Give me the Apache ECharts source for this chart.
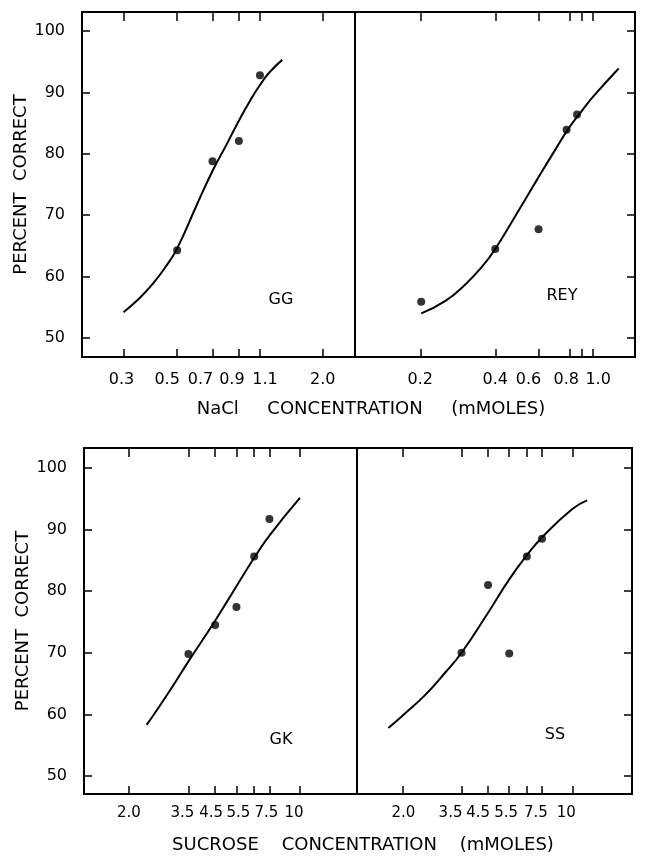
<!DOCTYPE html>
<html><head><meta charset="utf-8">
<script src="https://cdn.jsdelivr.net/npm/echarts@6/dist/echarts.min.js"></script>
<style>html,body{margin:0;padding:0;background:#fff}#c{width:645px;height:858px}</style>
</head><body><div id="c"></div>
<script>
// ---- Data ----
const yTicks = [50, 60, 70, 80, 90, 100];
const yTickLabels = ['50', '60', '70', '80', '90', '100'];

// GG (NaCl)
const ggTicks = [0.3, 0.5, 0.7, 0.9, 1.1, 2.0];
const ggTickLabels = ['0.3', '0.5', '0.7', '0.9', '1.1', '2.0'];
const ggPointX = [0.5, 0.7, 0.9, 1.1];
const ggPointY = [64.3, 78.8, 82.1, 92.8];
const ggCurveX = [0.3, 0.35, 0.4, 0.45, 0.5, 0.6, 0.7, 0.8, 0.9, 1.0, 1.1, 1.2, 1.36];
const ggCurveY = [54.2, 56.5, 59, 61.7, 64.6, 71.5, 77.2, 81.5, 85.4, 88.6, 91.2, 93.2, 95.3];

// REY (NaCl)
const reyTicks = [0.2, 0.4, 0.6, 0.8, 0.9, 1.0];
const reyLabelTicks = [0.2, 0.4, 0.6, 0.8, 1.0];
const reyTickLabels = ['0.2', '0.4', '0.6', '0.8', '1.0'];
const reyPointX = [0.2, 0.4, 0.6, 0.78, 0.86];
const reyPointY = [55.9, 64.5, 67.7, 83.9, 86.4];
const reyCurveX = [0.2, 0.25, 0.3, 0.35, 0.4, 0.5, 0.6, 0.7, 0.8, 0.9, 1.0, 1.27];
const reyCurveY = [54.0, 56.0, 58.6, 61.4, 64.5, 70.9, 76.2, 80.6, 84.3, 87.0, 89.3, 93.9];

// GK (sucrose)
const sucTicks = [2.0, 3.5, 4.5, 5.5, 6.5, 7.5, 10];
const sucLabelTicks = [2.0, 3.5, 4.5, 5.5, 7.5, 10];
const sucTickLabels = ['2.0', '3.5', '4.5', '5.5', '7.5', '10'];
const gkPointX = [3.5, 4.5, 5.5, 6.5, 7.5];
const gkPointY = [69.8, 74.5, 77.4, 85.6, 91.7];
const gkCurveX = [2.36, 2.5, 3.0, 3.5, 4.5, 5.5, 6.5, 7.5, 10];
const gkCurveY = [58.3, 59.7, 64.4, 68.6, 75.2, 80.8, 85.4, 89.0, 95.1];

// SS (sucrose)
const ssPointX = [3.5, 4.5, 5.5, 6.5, 7.5];
const ssPointY = [70.0, 81.0, 69.9, 85.6, 88.5];
const ssCurveX = [1.75, 2.0, 2.5, 3.0, 3.5, 4.5, 5.5, 6.5, 7.5, 10, 11.5];
const ssCurveY = [57.8, 59.8, 63.3, 66.8, 70.0, 76.5, 81.9, 85.8, 88.7, 93.3, 94.7];

// ---- Styling / layout ----
const FONT = 'DejaVu Sans';
const zip = (xs, ys) => xs.map((x, i) => [x, ys[i]]);

// horizontal nudges (px) of the hand-lettered tick labels, per label
const nudgeGG = [-2, -10, -12, -7, 5, 0];
const nudgeREY = [-1, 0, -10, -3, 5];
const nudgeGK = [0, -6, -4, 2, -3, -6];
const nudgeSS = [1, -11, -10, -3, -6, -6];

const panels = [
  { grid: {left: 82, top: 12, width: 273, height: 345}, xMin: 0.202, xMax: 2.72, yMin: 46.9, yMax: 103.1,
    ticks: ggTicks, labelTicks: ggTicks, labels: ggTickLabels, nudge: nudgeGG, side: 'left', lblMargin: 15, lblSize: 16,
    px: ggPointX, py: ggPointY, cx: ggCurveX, cy: ggCurveY },
  { grid: {left: 355, top: 12, width: 280, height: 345}, xMin: 0.1076, xMax: 1.48, yMin: 46.9, yMax: 103.1,
    ticks: reyTicks, labelTicks: reyLabelTicks, labels: reyTickLabels, nudge: nudgeREY, side: 'right', lblMargin: 15, lblSize: 16,
    px: reyPointX, py: reyPointY, cx: reyCurveX, cy: reyCurveY },
  { grid: {left: 84, top: 448, width: 273, height: 346}, xMin: 1.31, xMax: 17.1, yMin: 47.1, yMax: 103.2,
    ticks: sucTicks, labelTicks: sucLabelTicks, labels: sucTickLabels, nudge: nudgeGK, side: 'left', lblMargin: 12, lblSize: 15,
    px: gkPointX, py: gkPointY, cx: gkCurveX, cy: gkCurveY },
  { grid: {left: 357, top: 448, width: 275, height: 346}, xMin: 1.30, xMax: 17.6, yMin: 47.1, yMax: 103.2,
    ticks: sucTicks, labelTicks: sucLabelTicks, labels: sucTickLabels, nudge: nudgeSS, side: 'right', lblMargin: 12, lblSize: 15,
    px: ssPointX, py: ssPointY, cx: ssCurveX, cy: ssCurveY }
];

const option = { animation: false, backgroundColor: '#fff', grid: [], xAxis: [], yAxis: [], series: [], graphic: [] };

panels.forEach((p, i) => {
  option.grid.push(Object.assign({show: true, borderColor: '#000', borderWidth: 2, backgroundColor: 'transparent'}, p.grid));
  const rich = {};
  p.nudge.forEach((n, k) => {
    rich['n' + k] = {fontSize: p.lblSize, fontFamily: FONT, color: '#000',
      padding: n < 0 ? [0, -2 * n, 0, 0] : [0, 0, 0, 2 * n]};
  });
  const lab = (v) => {
    let best = 0, bd = Infinity;
    p.labelTicks.forEach((t, k) => { const d = Math.abs(Math.log(t) - Math.log(v)); if (d < bd) { bd = d; best = k; } });
    return '{n' + best + '|' + p.labels[best] + '}';
  };
  option.xAxis.push({
    type: 'log', gridIndex: i, min: p.xMin, max: p.xMax, position: 'bottom',
    axisLine: {show: false}, splitLine: {show: false}, minorTick: {show: false},
    axisTick: {show: true, inside: true, length: 8, lineStyle: {color: '#000', width: 1.5}, customValues: p.ticks},
    axisLabel: {show: true, customValues: p.labelTicks, formatter: lab, rich: rich, color: '#000',
      fontSize: p.lblSize, fontFamily: FONT, margin: p.lblMargin}
  });
  option.xAxis.push({
    type: 'log', gridIndex: i, min: p.xMin, max: p.xMax, position: 'top',
    axisLine: {show: false}, splitLine: {show: false},
    axisTick: {show: true, inside: true, length: 9, lineStyle: {color: '#000', width: 1.5}, customValues: p.ticks},
    axisLabel: {show: false}
  });
  const yAx = {
    type: 'value', gridIndex: i, min: p.yMin, max: p.yMax, position: p.side,
    axisLine: {show: false}, splitLine: {show: false},
    axisTick: {show: true, inside: true, length: 8, lineStyle: {color: '#000', width: 1.5}, customValues: yTicks},
    axisLabel: {show: p.side === 'left', customValues: yTicks, color: '#000', fontSize: 16, fontFamily: FONT, margin: 17,
      formatter: v => yTickLabels[yTicks.indexOf(Math.round(v))] }
  };
  if (p.side === 'left') {
    yAx.name = 'PERCENT  CORRECT';
    yAx.nameLocation = 'middle';
    yAx.nameGap = 44;
    yAx.nameTextStyle = {color: '#000', fontSize: 18, fontFamily: FONT};
  }
  option.yAxis.push(yAx);
  option.series.push({
    type: 'line', xAxisIndex: 2 * i, yAxisIndex: i, data: zip(p.cx, p.cy), smooth: 0.5,
    showSymbol: false, lineStyle: {color: '#000', width: 2}, z: 2
  });
  option.series.push({
    type: 'scatter', xAxisIndex: 2 * i, yAxisIndex: i, data: zip(p.px, p.py),
    symbol: 'circle', symbolSize: 8, itemStyle: {color: '#000'}, z: 3
  });
});

const txt = (t, x, y, fs) => ({ type: 'text', x: x, y: y,
  style: {text: t, fill: '#000', fontSize: fs, fontFamily: FONT, textAlign: 'center', textVerticalAlign: 'middle'} });
option.graphic = [
  txt('GG', 281, 300, 16),
  txt('REY', 562, 296, 16),
  txt('GK', 281, 740, 16),
  txt('SS', 555, 735, 16),
  txt('NaCl     CONCENTRATION     (mMOLES)', 371, 409, 18),
  txt('SUCROSE    CONCENTRATION    (mMOLES)', 363, 845, 18)
];

const chart = echarts.init(document.getElementById('c'), null, {renderer: 'canvas'});
chart.setOption(option);
</script>
</body></html>
